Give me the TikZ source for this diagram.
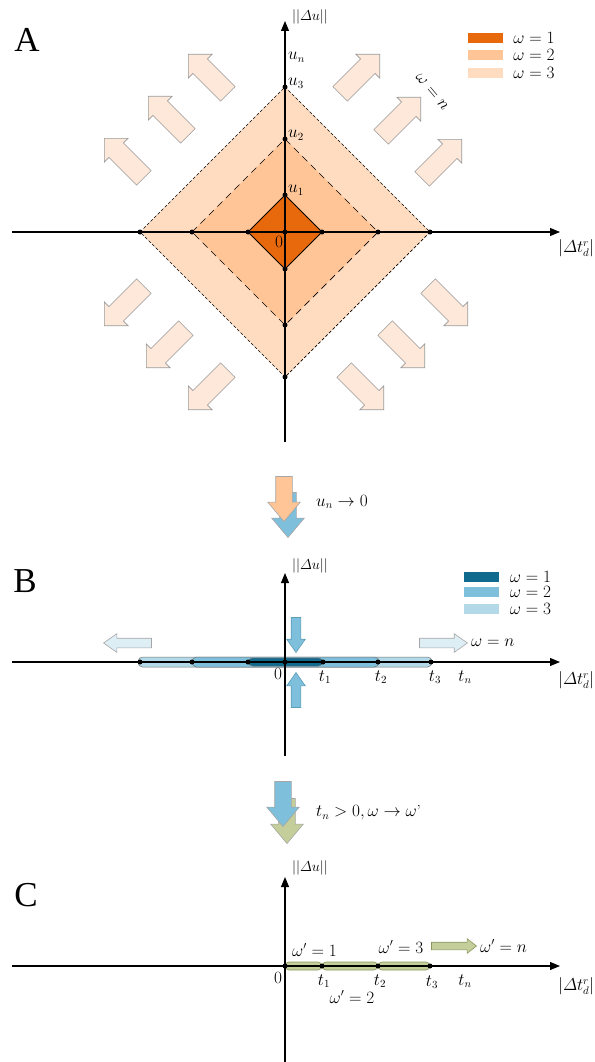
\documentclass[tikz,border=0pt]{standalone}
\usepackage{fontspec}
\usepackage{amsmath,amssymb}
\usepackage{tikz}
\usetikzlibrary{arrows.meta,positioning,shapes.arrows}
\newfontfamily\panelfont{Liberation Serif}
\definecolor{OrOne}{HTML}{E8690B}
\definecolor{OrTwo}{HTML}{FFC597}
\definecolor{OrThree}{HTML}{FFDCBF}
\definecolor{OrPale}{HTML}{FDE8DA}
\definecolor{BlOne}{HTML}{0F6A8E}
\definecolor{BlTwo}{HTML}{7EC0DB}
\definecolor{BlThree}{HTML}{B3D9E8}
\definecolor{BlPale}{HTML}{DDEEF5}
\definecolor{BlLine}{HTML}{5C9DB8}
\definecolor{GrFill}{HTML}{C3CE9B}
\definecolor{GrLine}{HTML}{8A965E}
\tikzset{
  ax/.style={line width=1.1pt, -{Triangle[length=10pt,width=8pt]}},
  dot/.style={circle, fill=black, inner sep=0pt, minimum size=5pt},
  lbl/.style={font=\fontsize{16}{18}\selectfont, inner sep=1pt},
  axlbl/.style={font=\fontsize{15}{17}\selectfont, inner sep=1pt},
  panel/.style={font=\panelfont\fontsize{35}{40}\selectfont, inner sep=0pt},
  swatch/.style={minimum width=35pt, minimum height=10pt, inner sep=0pt},
  keytxt/.style={font=\fontsize{17}{19}\selectfont, inner sep=0pt},
  barline/.style={rounded corners=4.5pt, line width=0.5pt, draw=black!55},
  blockarrow/.style={single arrow, line width=0.6pt, inner xsep=0pt, text height=0pt, text depth=0pt},
  growarrow/.style={blockarrow, draw=black!40, fill=OrPale, minimum height=56pt, minimum width=33pt,
    inner ysep=10pt, single arrow head extend=6.5pt, single arrow tip angle=90},
  passarrow/.style={blockarrow, draw=black!35, minimum height=45pt, minimum width=32pt,
    inner ysep=8pt, single arrow head extend=8pt, single arrow tip angle=80},
  smallarrow/.style={blockarrow, minimum width=18pt, inner ysep=4.5pt,
    single arrow head extend=4.5pt, single arrow tip angle=70},
  newarrow/.style={blockarrow, draw=GrLine, fill=GrFill, minimum height=45pt, minimum width=14pt,
    inner ysep=3.5pt, single arrow head extend=3.5pt, single arrow tip angle=76}
}
\begin{document}
\begin{tikzpicture}[x=1pt, y=-1pt]
  \useasboundingbox (0,0) rectangle (594,1062);

  % ---- A ----
  \node[panel] (pA) at (27,40) {A};
  \coordinate (oA) at (285,232);
  \coordinate (a1t) at (285,195); \coordinate (a1r) at (322,232); \coordinate (a1b) at (285,269); \coordinate (a1l) at (248,232);
  \coordinate (a2t) at (285,139); \coordinate (a2r) at (378,232); \coordinate (a2b) at (285,325); \coordinate (a2l) at (192,232);
  \coordinate (a3t) at (285,87);  \coordinate (a3r) at (430,232); \coordinate (a3b) at (285,377); \coordinate (a3l) at (140,232);
  \coordinate (aW) at (12,232); \coordinate (aE) at (560,232);
  \coordinate (aS) at (285,442); \coordinate (aN) at (285,21);

  \draw[densely dashed, line width=0.7pt, fill=OrThree] (a3l) -- (a3t) -- (a3r) -- (a3b) -- cycle;
  \draw[dash pattern=on 7pt off 5pt, line width=0.7pt, fill=OrTwo] (a2l) -- (a2t) -- (a2r) -- (a2b) -- cycle;
  \draw[line width=0.8pt, fill=OrOne] (a1l) -- (a1t) -- (a1r) -- (a1b) -- cycle;
  \draw[ax] (aW) -- (aE);
  \draw[ax] (aS) -- (aN);
  \foreach \p in {oA,a1t,a1r,a1b,a1l,a2t,a2r,a2b,a2l,a3t,a3r,a3b,a3l}
    \node[dot] (\p-dot) at (\p) {};

  \node[axlbl, anchor=west] (duA) at (291,17) {$||\varDelta u||$};
  \node[lbl, anchor=west] (dtA) at (557,248) {$|\varDelta t_d^r|$};
  \node[lbl] (zA) at (279,242) {$0$};
  \node[lbl, anchor=west] (u1) at (287,190) {$u_1$};
  \node[lbl, anchor=west] (u2) at (287,135) {$u_2$};
  \node[lbl, anchor=west] (u3) at (287,83) {$u_3$};
  \node[lbl, anchor=west] (un) at (287,57) {$u_n$};
  \node[lbl, rotate=-50] (wnA) at (432,92) {$\omega=n$};

  \node[growarrow, rotate=135, anchor=tip] (nw1) at (104,138) {};
  \node[growarrow, rotate=135, anchor=tip] (nw2) at (148,96) {};
  \node[growarrow, rotate=135, anchor=tip] (nw3) at (188,54) {};
  \node[growarrow, rotate=45, anchor=tip] (ne1) at (380,54) {};
  \node[growarrow, rotate=45, anchor=tip] (ne2) at (421,97) {};
  \node[growarrow, rotate=45, anchor=tip] (ne3) at (462,139) {};
  \node[growarrow, rotate=-135, anchor=tip] (sw1) at (104,326) {};
  \node[growarrow, rotate=-135, anchor=tip] (sw2) at (146,368) {};
  \node[growarrow, rotate=-135, anchor=tip] (sw3) at (188,410) {};
  \node[growarrow, rotate=-45, anchor=tip] (se1) at (468,326) {};
  \node[growarrow, rotate=-45, anchor=tip] (se2) at (425,368) {};
  \node[growarrow, rotate=-45, anchor=tip] (se3) at (384,410) {};

  \node[swatch, fill=OrOne] (kA1) at (485.5,38) {};
  \node[swatch, fill=OrTwo] (kA2) at (485.5,55) {};
  \node[swatch, fill=OrThree] (kA3) at (485.5,73) {};
  \node[keytxt, right=10pt of kA1] (tA1) {$\omega=1$};
  \node[keytxt, right=10pt of kA2] (tA2) {$\omega=2$};
  \node[keytxt, right=10pt of kA3] (tA3) {$\omega=3$};

  % ---- A to B ----
  \node[passarrow, fill=BlTwo, rotate=-90, anchor=tip] (abBlue) at (288,538) {};
  \node[passarrow, fill=OrTwo, rotate=-90, anchor=tip] (abOrange) at (284,522) {};
  \node[lbl, anchor=west] (abTxt) at (315,502) {$u_n \rightarrow 0$};

  % ---- B ----
  \node[panel] (pB) at (25,581) {B};
  \coordinate (oB) at (285,662);
  \coordinate (bW) at (12,662); \coordinate (bE) at (560,662);
  \coordinate (bS) at (285,756); \coordinate (bN) at (285,573);
  \draw[barline, fill=BlThree] (138,657) rectangle (432,667);
  \draw[barline, fill=BlTwo] (192,657) rectangle (379,667);
  \draw[barline, fill=BlOne] (248,658) rectangle (323,666);
  \draw[ax] (bW) -- (bE);
  \draw[ax] (bS) -- (bN);
  \foreach \x/\n in {140/bl3,192/bl2,248/bl1,285/bo,323/br1,378/br2,431/br3}
    \node[dot] (\n) at (\x,662) {};

  \node[axlbl, anchor=west] (duB) at (291,566) {$||\varDelta u||$};
  \node[lbl, anchor=west] (dtB) at (557,680) {$|\varDelta t_d^r|$};
  \node[lbl] (zB) at (278,674) {$0$};
  \node[lbl] (t1B) at (325,677) {$t_1$};
  \node[lbl] (t2B) at (381,677) {$t_2$};
  \node[lbl] (t3B) at (435,677) {$t_3$};
  \node[lbl] (tnB) at (465,677) {$t_n$};

  \node[smallarrow, draw=BlLine, fill=BlTwo, minimum height=35pt, rotate=-90, anchor=tip] (inDown) at (296,653) {};
  \node[smallarrow, draw=BlLine, fill=BlTwo, minimum height=35pt, rotate=90, anchor=tip] (inUp) at (296,672) {};
  \node[smallarrow, draw=black!35, fill=BlPale, minimum height=48pt, rotate=180, anchor=tip] (outL) at (103,643) {};
  \node[smallarrow, draw=black!35, fill=BlPale, minimum height=48pt, anchor=tip] (outR) at (468,643) {};
  \node[lbl, anchor=west] (wnB) at (470,643) {$\omega=n$};

  \node[swatch, fill=BlOne] (kB1) at (481,577) {};
  \node[swatch, fill=BlTwo] (kB2) at (481,592) {};
  \node[swatch, fill=BlThree] (kB3) at (481,609) {};
  \node[keytxt, right=11pt of kB1] (tB1) {$\omega=1$};
  \node[keytxt, right=11pt of kB2] (tB2) {$\omega=2$};
  \node[keytxt, right=11pt of kB3] (tB3) {$\omega=3$};

  % ---- B to C ----
  \node[passarrow, fill=GrFill, rotate=-90, anchor=tip] (bcGreen) at (287,844) {};
  \node[passarrow, fill=BlTwo, rotate=-90, anchor=tip] (bcBlue) at (283,827) {};
  \node[lbl, anchor=west] (bcTxt) at (315,813) {$t_n > 0, \omega \rightarrow \omega$'};

  % ---- C ----
  \node[panel] (pC) at (26,895) {C};
  \coordinate (oC) at (285,966);
  \coordinate (cW) at (12,966); \coordinate (cE) at (560,966);
  \coordinate (cS) at (285,1062); \coordinate (cN) at (285,877);
  \draw[rounded corners=4pt, line width=0.6pt, draw=GrLine, fill=GrFill] (285,962) rectangle (322,970);
  \draw[rounded corners=4pt, line width=0.6pt, draw=GrLine, fill=GrFill] (322,962) rectangle (378,970);
  \draw[rounded corners=4pt, line width=0.6pt, draw=GrLine, fill=GrFill] (378,962) rectangle (430,970);
  \draw[ax] (cW) -- (cE);
  \draw[ax] (cS) -- (cN);
  \foreach \x/\n in {285/co,322/cr1,378/cr2,430/cr3}
    \node[dot] (\n) at (\x,966) {};

  \node[axlbl, anchor=west] (duC) at (291,868) {$||\varDelta u||$};
  \node[lbl, anchor=west] (dtC) at (557,986) {$|\varDelta t_d^r|$};
  \node[lbl] (zC) at (278,978) {$0$};
  \node[lbl] (t1C) at (324,981) {$t_1$};
  \node[lbl] (t2C) at (380,981) {$t_2$};
  \node[lbl] (t3C) at (432,982) {$t_3$};
  \node[lbl] (tnC) at (465,981) {$t_n$};
  \node[lbl, anchor=west] (w1C) at (291,950) {$\omega'=1$};
  \node[lbl] (w2C) at (352,997) {$\omega'=2$};
  \node[lbl] (w3C) at (401,947) {$\omega'=3$};
  \node[newarrow, anchor=tip] (grow) at (477,946) {};
  \node[lbl, anchor=west] (wnC) at (479,946) {$\omega'=n$};
\end{tikzpicture}
\end{document}
